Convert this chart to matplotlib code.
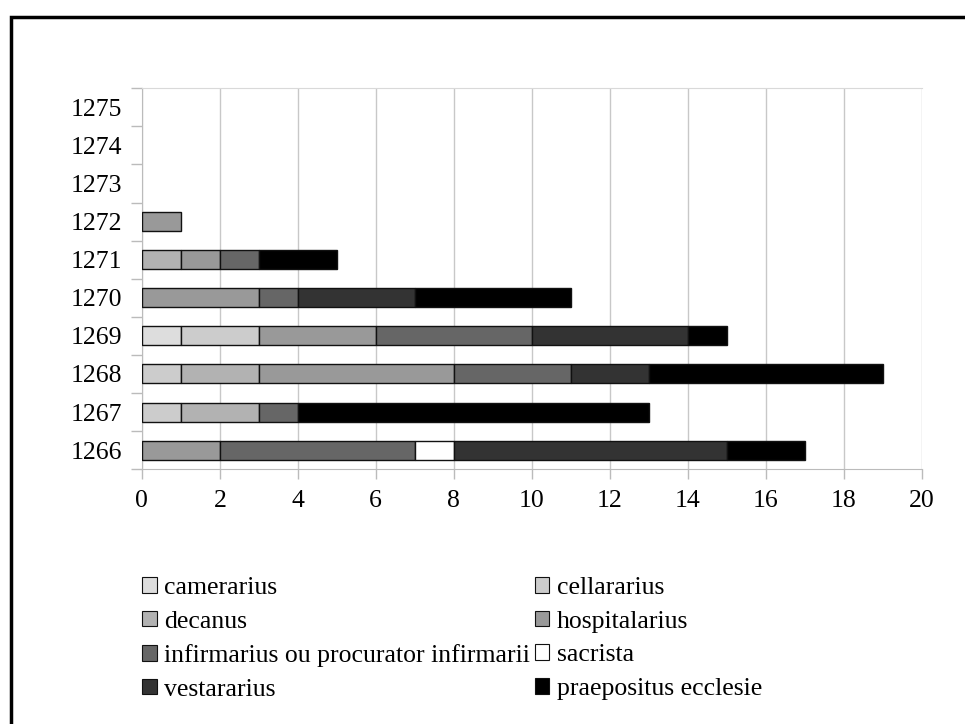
from matplotlib import pyplot as plt
import matplotlib.patches as mpatches
import numpy as np

years = ['1266', '1267', '1268', '1269', '1270', '1271', '1272', '1273', '1274', '1275']
offices = ['camerarius', 'cellararius', 'decanus', 'hospitalarius',
           'infirmarius ou procurator infirmarii', 'sacrista', 'vestararius',
           'praepositus ecclesie']
colors = ['#dddddd', '#cccccc', '#b2b2b2', '#999999', '#666666', '#ffffff', '#333333', '#000000']

# counts per office, one entry per year (1266..1275)
camerarius    = [0, 0, 0, 1, 0, 0, 0, 0, 0, 0]
cellararius   = [0, 1, 1, 2, 0, 0, 0, 0, 0, 0]
decanus       = [0, 2, 2, 0, 0, 1, 0, 0, 0, 0]
hospitalarius = [2, 0, 5, 3, 3, 1, 1, 0, 0, 0]
infirmarius   = [5, 1, 3, 4, 1, 1, 0, 0, 0, 0]
sacrista      = [1, 0, 0, 0, 0, 0, 0, 0, 0, 0]
vestararius   = [7, 0, 2, 4, 3, 0, 0, 0, 0, 0]
praepositus   = [2, 9, 6, 1, 4, 2, 0, 0, 0, 0]

series = [camerarius, cellararius, decanus, hospitalarius,
          infirmarius, sacrista, vestararius, praepositus]

plt.rcParams['font.family'] = ['Liberation Serif', 'DejaVu Serif']

fig = plt.figure(figsize=(9.65, 7.24), dpi=100)
ax = fig.add_axes([0.147, 0.352, 0.808, 0.526])

y = np.arange(len(years))
left = np.zeros(len(years))
handles = []
for name, vals, col in zip(offices, series, colors):
    vals = np.array(vals, dtype=float)
    nz = vals > 0  # skip empty segments so no edge is drawn
    ax.barh(y[nz], vals[nz], left=left[nz], height=0.5, color=col, edgecolor='#111111',
            linewidth=1.0, zorder=3)
    left += vals
    handles.append(mpatches.Patch(facecolor=col, edgecolor='#111111', linewidth=0.8, label=name))

ax.set_xlim(0, 20)
ax.set_ylim(-0.5, len(years) - 0.5)
ax.set_xticks(np.arange(0, 21, 2))
ax.set_yticks(y)
ax.set_yticklabels(years)
ax.set_yticks(np.arange(-0.5, len(years), 1), minor=True)
ax.tick_params(axis='y', which='major', length=0, pad=14, labelsize=18.5)
ax.tick_params(axis='y', which='minor', length=8, color='#bbbbbb', width=1)
ax.tick_params(axis='x', length=7, color='#bbbbbb', width=1, pad=8, labelsize=18.5)
ax.grid(axis='x', color='#c8c8c8', linewidth=1, zorder=0)
for s in ['left', 'bottom']:
    ax.spines[s].set_color('#bbbbbb')
ax.spines['top'].set_color('#d9d9d9')
ax.spines['right'].set_visible(False)

# legend filled by rows, two columns
order = [0, 2, 4, 6, 1, 3, 5, 7]
fig.legend([handles[i] for i in order], [offices[i] for i in order],
           loc='upper left', bbox_to_anchor=(0.137, 0.217), ncol=2, frameon=False,
           fontsize=18.5, handlelength=0.55, handleheight=0.55, handletextpad=0.3,
           labelspacing=0.45, columnspacing=0.2, borderaxespad=0)

# outer frame (only left and top edges visible)
fig.add_artist(mpatches.Rectangle((0.011, -0.1), 1.2, 1.0765, transform=fig.transFigure,
                                  fill=False, edgecolor='black', linewidth=2.5))

fig.savefig('out.png', dpi=100)
